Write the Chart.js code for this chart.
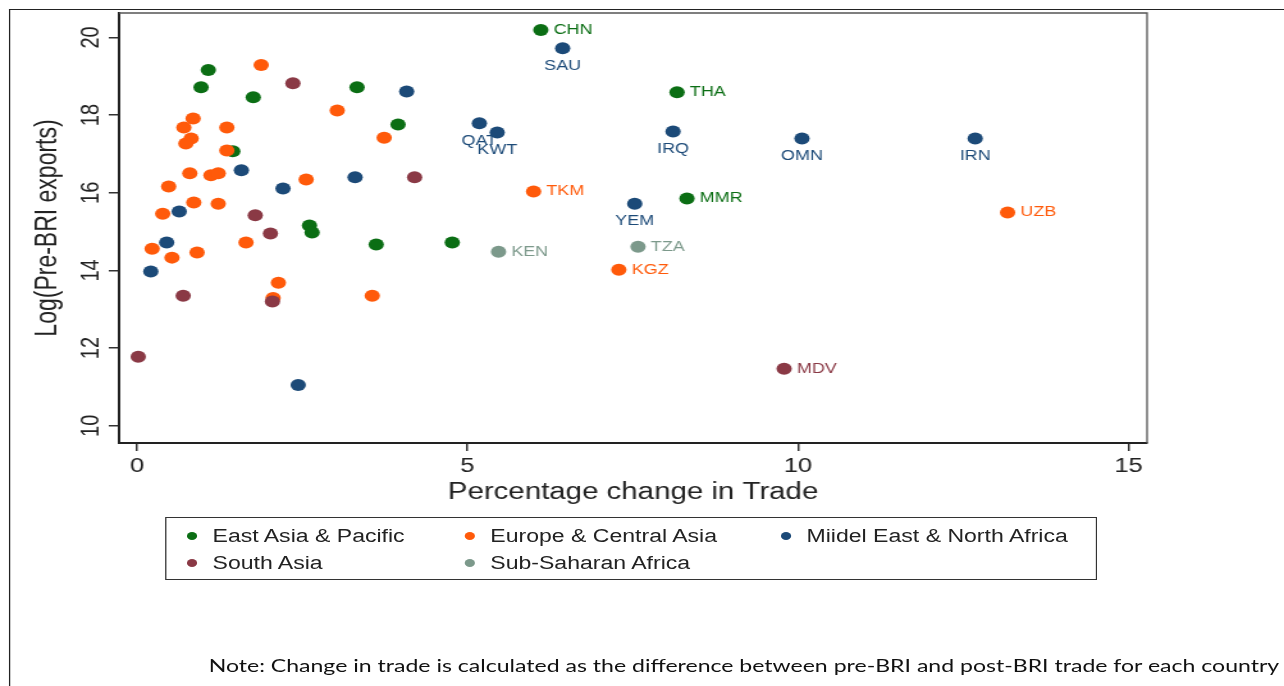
<!DOCTYPE html>
<html>
<head>
<meta charset="utf-8">
<script src="https://cdn.jsdelivr.net/npm/chart.js@4.4.1/dist/chart.umd.min.js"></script>
<style>
  html, body { margin: 0; padding: 0; background: #fff; overflow: hidden; }
  /* the reference is stretched sideways, so the whole page is drawn narrow and scaled */
  #page { position: absolute; left: 0; top: 0; width: 1003px; height: 686px;
          transform: scaleX(1.2802); transform-origin: 0 0;
          font-family: "Liberation Sans", Arial, sans-serif; color: #222; }
  #frame { position: absolute; left: 7px; top: 9px; width: 1200px; height: 900px;
           border-left: 1.5px solid #222; border-top: 1.5px solid #222; }
  #chart { position: absolute; left: 0; top: 0; }
  #legend { position: absolute; left: 129px; top: 517px; width: 728px; height: 63px;
            box-sizing: border-box; border: 1.5px solid #333; }
  .dot { position: absolute; width: 8px; height: 8px; border-radius: 50%; }
  .lbl { position: absolute; font-size: 18px; line-height: 22px; white-space: nowrap; color: #222; }
  #note { position: absolute; left: 163px; top: 654px; font-family: Lato, "Open Sans", sans-serif;
          font-size: 18px; line-height: 22px; white-space: nowrap; color: #111; }
</style>
</head>
<body>
<div id="page">
  <div id="frame"></div>
  <canvas id="chart" width="1003" height="686"></canvas>
  <div id="legend"></div>
  <div id="note">Note: Change in trade is calculated as the difference between pre-BRI and post-BRI trade for each country</div>
</div>
<script>
const regions = ['East Asia & Pacific', 'Europe & Central Asia', 'Miidel East & North Africa', 'South Asia', 'Sub-Saharan Africa'];
const colors = ['#0b6e14', '#ff5a0a', '#1c4a78', '#8a3945', '#7c998b'];

const xTicks = [0, 5, 10, 15];
const yTicks = [10, 12, 14, 16, 18, 20];

// East Asia & Pacific
const eapX = [6.11, 8.17, 8.32, 1.08, 0.97, 1.76, 3.33, 3.95, 1.45, 2.61, 2.65, 3.62, 4.77];
const eapY = [20.19, 18.59, 15.85, 19.16, 18.72, 18.46, 18.72, 17.76, 17.07, 15.16, 14.98, 14.67, 14.72];
const eapCodes = ['CHN', 'THA', 'MMR', '', '', '', '', '', '', '', '', '', ''];

// Europe & Central Asia
const ecaX = [1.88, 0.85, 0.71, 1.36, 0.82, 0.74, 1.36, 0.80, 1.12, 1.23, 0.48, 0.86, 1.23, 0.39,
              2.56, 3.03, 3.74, 6.00, 13.17, 7.29, 3.56, 2.14, 2.06, 0.23, 0.53, 0.91, 1.65];
const ecaY = [19.29, 17.91, 17.68, 17.68, 17.40, 17.27, 17.09, 16.50, 16.45, 16.50, 16.16, 15.75, 15.72, 15.46,
              16.34, 18.12, 17.42, 16.03, 15.49, 14.02, 13.35, 13.68, 13.29, 14.56, 14.33, 14.46, 14.72];
const ecaCodes = ['', '', '', '', '', '', '', '', '', '', '', '', '', '',
                  '', '', '', 'TKM', 'UZB', 'KGZ', '', '', '', '', '', '', ''];

// Middle East & North Africa
const menaX = [6.44, 5.18, 5.45, 8.11, 10.06, 12.68, 7.53, 4.08, 1.58, 2.21, 3.30, 0.64, 0.45, 0.21, 2.44];
const menaY = [19.72, 17.79, 17.55, 17.58, 17.40, 17.40, 15.72, 18.61, 16.58, 16.11, 16.40, 15.52, 14.72, 13.97, 11.05];
const menaCodes = ['SAU', 'QAT', 'KWT', 'IRQ', 'OMN', 'IRN', 'YEM', '', '', '', '', '', '', '', ''];

// South Asia
const saX = [2.36, 4.20, 1.79, 2.02, 0.70, 2.05, 0.02, 9.79];
const saY = [18.82, 16.40, 15.42, 14.95, 13.35, 13.20, 11.78, 11.47];
const saCodes = ['', '', '', '', '', '', '', 'MDV'];

// Sub-Saharan Africa
const ssaX = [5.47, 7.58];
const ssaY = [14.48, 14.61];
const ssaCodes = ['KEN', 'TZA'];

// these codes sit under their dot, the rest to the right
const labelsBelow = ['SAU', 'QAT', 'KWT', 'IRQ', 'OMN', 'IRN', 'YEM'];

const seriesX = [eapX, ecaX, menaX, saX, ssaX];
const seriesY = [eapY, ecaY, menaY, saY, ssaY];
const seriesCodes = [eapCodes, ecaCodes, menaCodes, saCodes, ssaCodes];

const font = '"Liberation Sans", Arial, sans-serif';

const datasets = regions.map((name, i) => ({
    label: name,
    data: seriesX[i].map((x, j) => ({ x: x, y: seriesY[i][j] })),
    codes: seriesCodes[i],
    backgroundColor: colors[i],
    borderWidth: 0,
    pointRadius: 6,
    order: regions.length - i,
}));

const pointLabels = {
    id: 'pointLabels',
    afterDatasetsDraw(chart) {
        const ctx = chart.ctx;
        ctx.save();
        ctx.font = '14px ' + font;
        ctx.textBaseline = 'middle';
        chart.data.datasets.forEach((ds, i) => {
            chart.getDatasetMeta(i).data.forEach((pt, j) => {
                const code = ds.codes[j];
                if (!code) return;
                ctx.fillStyle = ds.backgroundColor;
                if (labelsBelow.includes(code)) {
                    ctx.textAlign = 'center';
                    ctx.fillText(code, pt.x, pt.y + 17.5);
                } else {
                    ctx.textAlign = 'left';
                    ctx.fillText(code, pt.x + 10, pt.y);
                }
            });
        });
        ctx.restore();
    },
};

// thin top and right edges of the plot box
const plotBox = {
    id: 'plotBox',
    beforeDatasetsDraw(chart) {
        const { ctx, chartArea: a } = chart;
        ctx.save();
        ctx.strokeStyle = '#555';
        ctx.lineWidth = 1.3;
        ctx.beginPath();
        ctx.moveTo(a.left, a.top);
        ctx.lineTo(a.right, a.top);
        ctx.lineTo(a.right, a.bottom);
        ctx.stroke();
        ctx.restore();
    },
};

const ctx = document.getElementById('chart').getContext('2d');
new Chart(ctx, {
    type: 'scatter',
    data: { datasets: datasets },
    plugins: [plotBox, pointLabels],
    options: {
        responsive: false,
        animation: false,
        layout: { padding: { left: 0, top: 13, right: 107, bottom: 180 } },
        plugins: { legend: { display: false }, tooltip: { enabled: false } },
        scales: {
            x: {
                type: 'linear',
                min: -0.27,
                max: 15.28,
                afterBuildTicks: s => { s.ticks = xTicks.map(v => ({ value: v })); },
                afterFit: s => { s.height = 63; s.paddingLeft = 0; s.paddingRight = 0; },
                grid: { drawOnChartArea: false, drawTicks: true, tickLength: 8, color: '#333', lineWidth: 1.5 },
                border: { display: true, color: '#222', width: 2 },
                ticks: { color: '#222', font: { family: font, size: 20 }, padding: 3, maxRotation: 0, autoSkip: false },
                title: { display: true, text: 'Percentage change in Trade', color: '#222',
                         font: { family: font, size: 23 }, padding: { top: 0, bottom: 0 } },
            },
            y: {
                type: 'linear',
                min: 9.556,
                max: 20.63,
                afterBuildTicks: s => { s.ticks = yTicks.map(v => ({ value: v })); },
                afterFit: s => { s.width = 93; s.paddingTop = 0; s.paddingBottom = 0; },
                grid: { drawOnChartArea: false, drawTicks: true, tickLength: 8, color: '#333', lineWidth: 1.5 },
                border: { display: true, color: '#222', width: 2 },
                ticks: { color: '#222', font: { family: font, size: 20 }, padding: 2,
                         minRotation: 90, maxRotation: 90, crossAlign: 'center', autoSkip: false },
                title: { display: true, text: 'Log(Pre-BRI exports)', color: '#222',
                         font: { family: font, size: 23 }, padding: { top: 24, bottom: 0 } },
            },
        },
    },
});

// legend box under the plot
const legendCols = [150, 367, 614];
const legendRows = [536, 563];
const page = document.getElementById('page');
regions.forEach((name, i) => {
    const cx = legendCols[i % 3];
    const cy = legendRows[Math.floor(i / 3)];
    const dot = document.createElement('div');
    dot.className = 'dot';
    dot.style.left = (cx - 4) + 'px';
    dot.style.top = (cy - 4) + 'px';
    dot.style.background = colors[i];
    page.appendChild(dot);
    const lbl = document.createElement('div');
    lbl.className = 'lbl';
    lbl.style.left = (cx + 16) + 'px';
    lbl.style.top = (cy - 11) + 'px';
    lbl.textContent = name;
    page.appendChild(lbl);
});
</script>
</body>
</html>
